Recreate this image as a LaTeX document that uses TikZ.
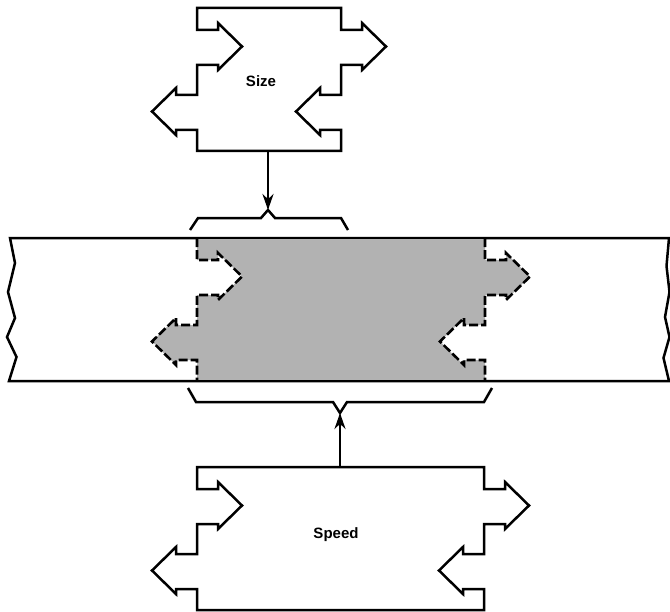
\documentclass[tikz,border=0pt]{standalone}
\usepackage{fontspec}
\setmainfont{Liberation Sans}
\usetikzlibrary{arrows.meta}
\newcommand\profD{-- ++(0,22) -- ++(21,0) -- ++(0,-7) -- ++(24,23.5) -- ++(-24,23.5) -- ++(0,-5) -- ++(-21,0) -- ++(0,30) -- ++(-21,0) -- ++(0,-7) -- ++(-24,23.5) -- ++(24,23.5) -- ++(0,-5) -- ++(21,0) -- ++(0,21)}
\newcommand\profU{-- ++(0,-21) -- ++(-21,0) -- ++(0,5) -- ++(-24,-23.5) -- ++(24,-23.5) -- ++(0,7) -- ++(21,0) -- ++(0,-30) -- ++(21,0) -- ++(0,5) -- ++(24,-23.5) -- ++(-24,-23.5) -- ++(0,7) -- ++(-21,0) -- ++(0,-22)}
\tikzset{
  outline/.style={line width=2.5bp, line join=miter},
  dashedline/.style={line width=2.6bp, dash pattern=on 9bp off 3bp},
  shade/.style={fill=black!30},
  lbl/.style={font=\bfseries\fontsize{15bp}{18bp}\selectfont, inner sep=0pt},
  conn/.style={line width=2.7bp, -{Stealth[length=16bp,width=11bp]}},
}
\begin{document}
\begin{tikzpicture}[x=1bp,y=-1bp]
\useasboundingbox (0,0) rectangle (670,612);
% Size piece
\draw[outline] (197,8) -- (341,8) \profD -- (197,151) \profU -- cycle;
\node[lbl] (size) at (261,81.5) {Size};
% band
\draw[outline] (10,238) -- (669,238) -- (666.5,266) -- (669.5,292) -- (665,317) -- (669.5,337) -- (663.5,358) -- (669,381)
  -- (9,381) -- (16.5,357) -- (7,337) -- (15,318) -- (8,292) -- (15,263) -- cycle;
% shaded piece
\fill[shade] (197,238) -- (485,238) \profD -- (197,381) \profU -- cycle;
\draw[dashedline] (485,238) \profD;
\draw[dashedline] (197,238) \profD;
\draw[outline] (10,238) -- (669,238);
\draw[outline] (9,381) -- (669,381);
% Speed piece
\draw[outline] (197,467) -- (484,467) \profD -- (197,610) \profU -- cycle;
\node[lbl] (speed) at (336,535) {Speed};
% braces
\draw[outline] (190,230) -- (198,218) -- (261,218) -- (268,210) coordinate (bracetop) -- (275,218) -- (341,218) -- (348,230);
\draw[outline] (188,388) -- (196,402) -- (333,402) -- (340,413) coordinate (bracebot) -- (347,402) -- (484,402) -- (492,388);
% connectors
\coordinate (sizebot) at (268,151);
\coordinate (speedtop) at (340,467);
\draw[conn] (sizebot) -- (bracetop);
\draw[conn] (speedtop) -- (bracebot);
\end{tikzpicture}
\end{document}
